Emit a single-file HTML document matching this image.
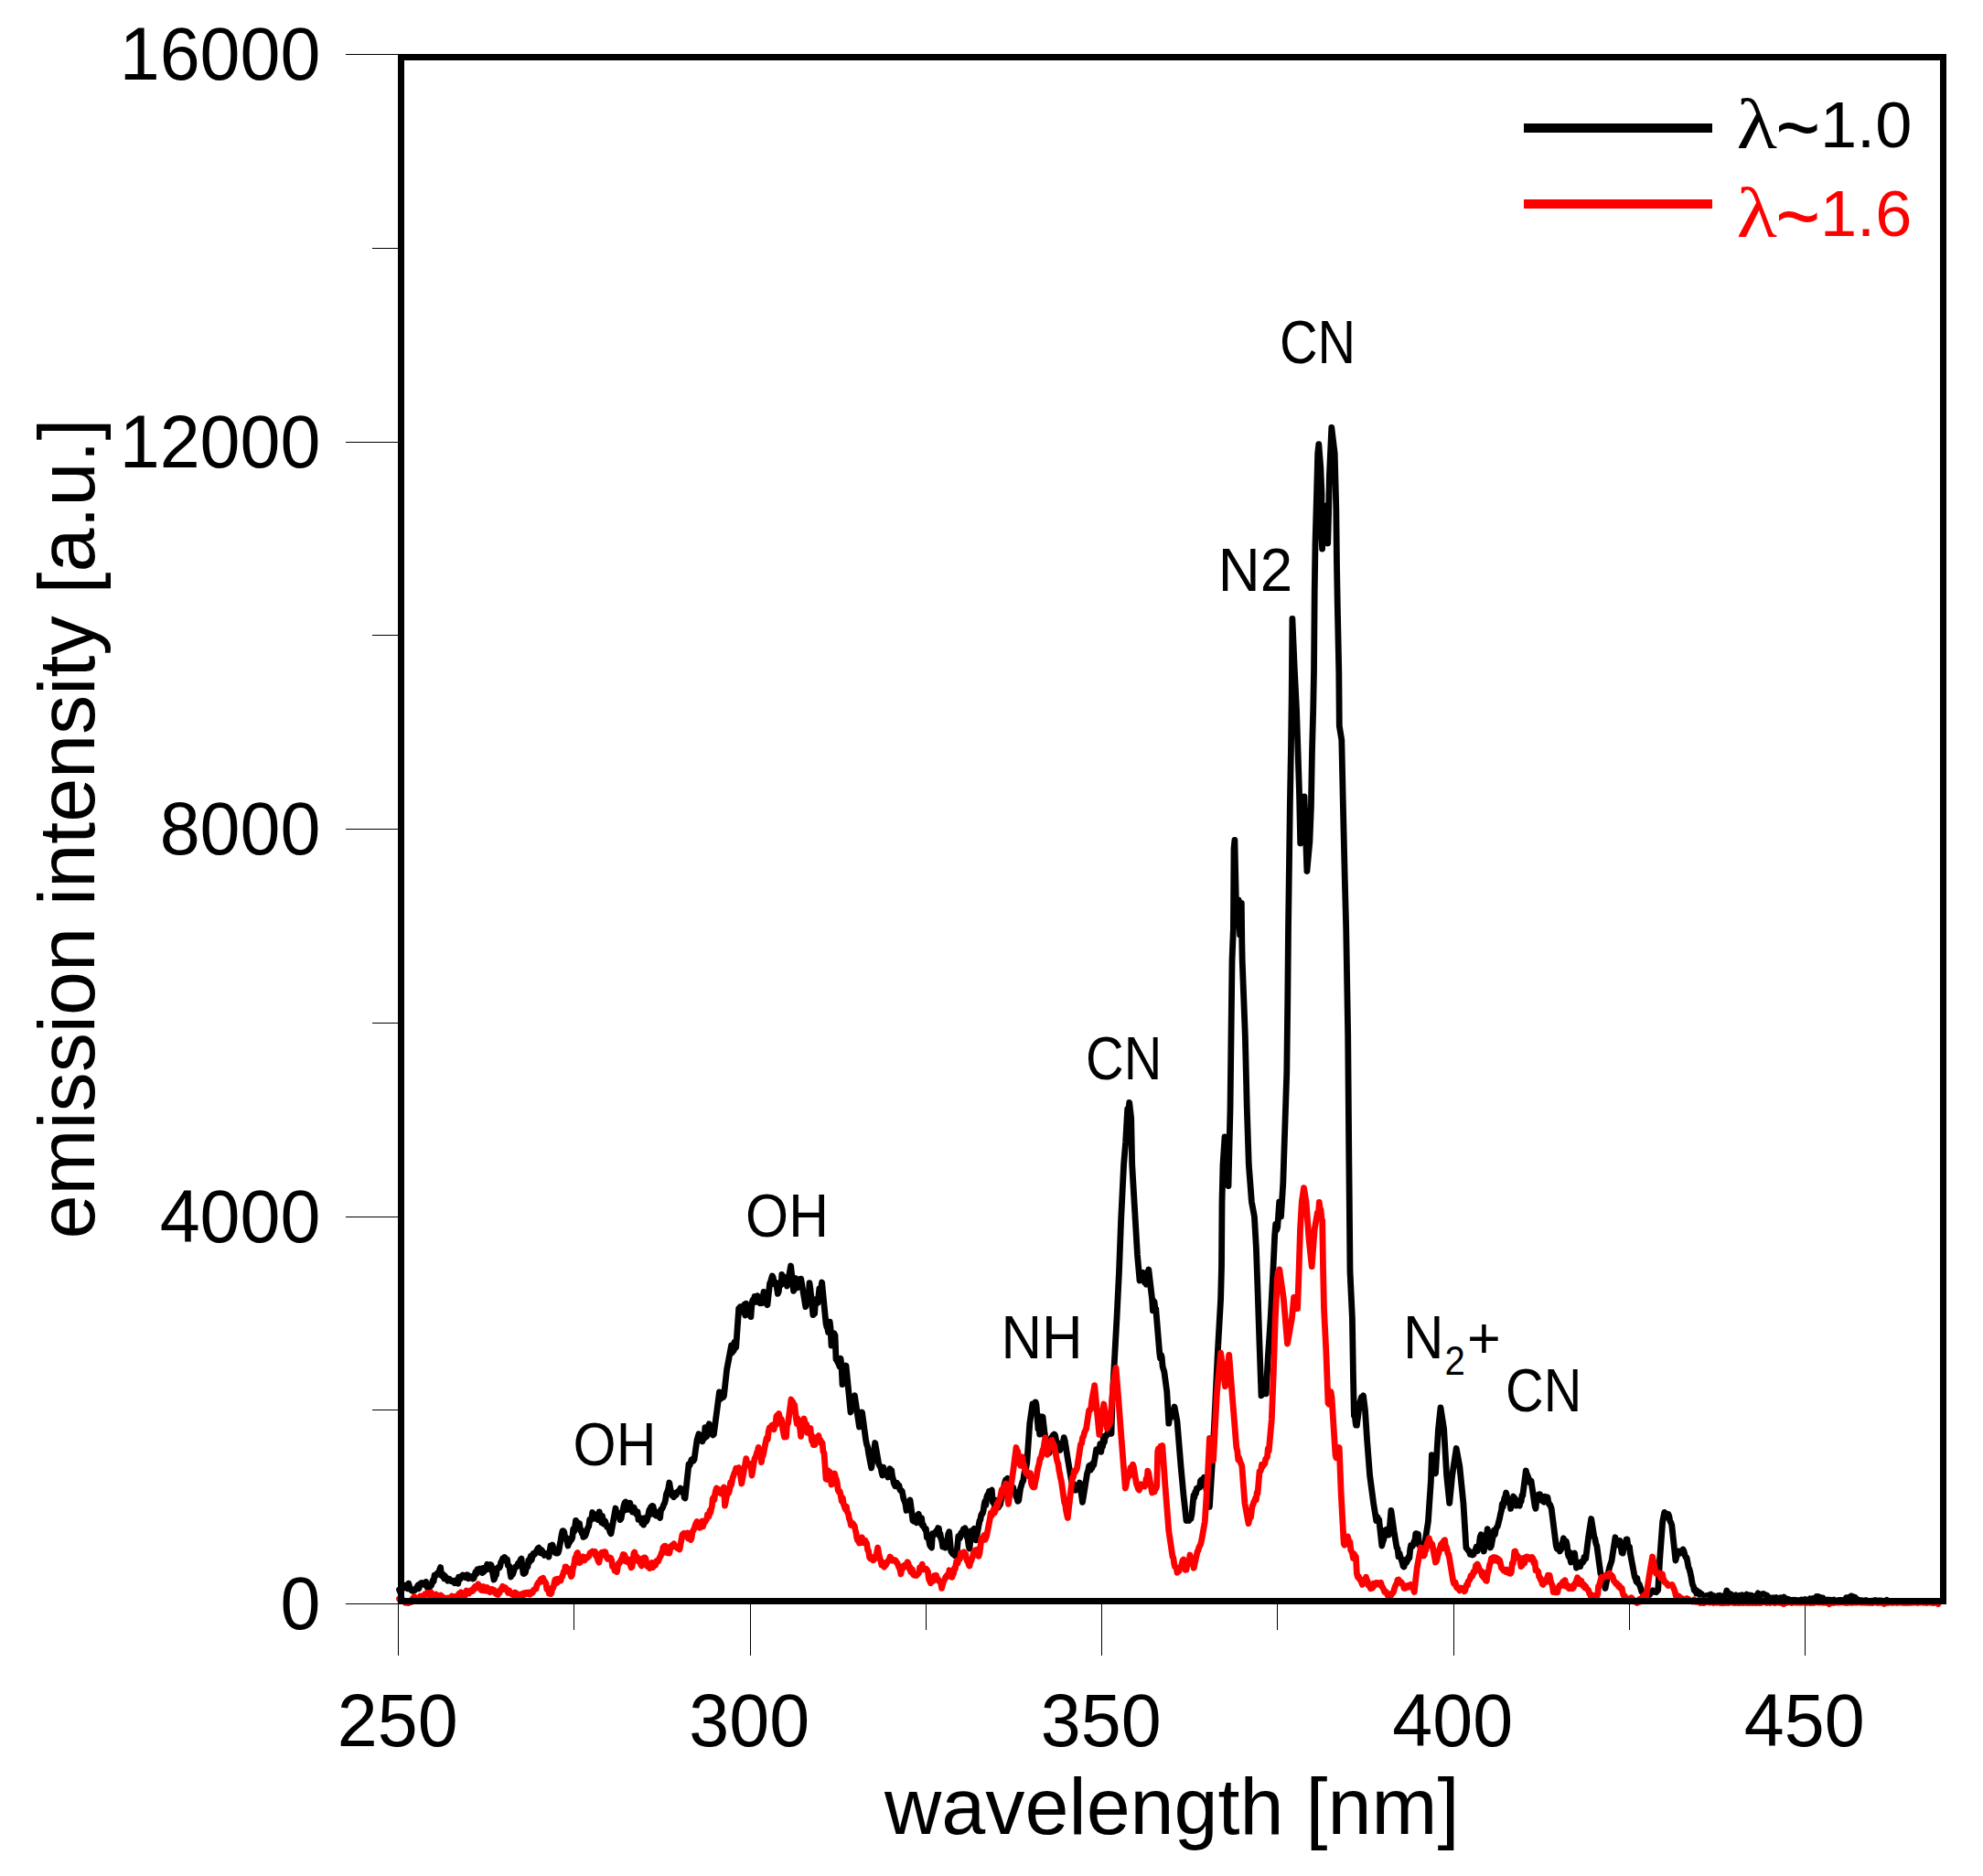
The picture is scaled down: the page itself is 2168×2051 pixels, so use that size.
<!DOCTYPE html>
<html lang="en"><head><meta charset="utf-8"><title>emission spectrum</title>
<style>
html,body{margin:0;padding:0;background:#fff;}
body{width:2168px;height:2051px;overflow:hidden;}
svg{display:block;}
.ax{font-family:"Liberation Sans",Arial,sans-serif;fill:#000;}
.lb{font-family:"Liberation Sans",Arial,sans-serif;fill:#000;}
.gr{font-family:"Liberation Serif","DejaVu Serif",serif;}
</style></head><body>
<svg width="2168" height="2051" viewBox="0 0 2168 2051">
<rect x="0" y="0" width="2168" height="2051" fill="#fff"/>

<g stroke="#000" stroke-width="1" shape-rendering="crispEdges">
<line x1="378" y1="1753.5" x2="436" y2="1753.5"/>
<line x1="407" y1="1541.8" x2="436" y2="1541.8"/>
<line x1="378" y1="1330.0" x2="436" y2="1330.0"/>
<line x1="407" y1="1118.2" x2="436" y2="1118.2"/>
<line x1="378" y1="906.5" x2="436" y2="906.5"/>
<line x1="407" y1="694.8" x2="436" y2="694.8"/>
<line x1="378" y1="483.0" x2="436" y2="483.0"/>
<line x1="407" y1="271.2" x2="436" y2="271.2"/>
<line x1="378" y1="59.5" x2="436" y2="59.5"/>
<line x1="435.5" y1="1753" x2="435.5" y2="1810"/>
<line x1="627.8" y1="1753" x2="627.8" y2="1782"/>
<line x1="820.0" y1="1753" x2="820.0" y2="1810"/>
<line x1="1012.2" y1="1753" x2="1012.2" y2="1782"/>
<line x1="1204.5" y1="1753" x2="1204.5" y2="1810"/>
<line x1="1396.8" y1="1753" x2="1396.8" y2="1782"/>
<line x1="1589.0" y1="1753" x2="1589.0" y2="1810"/>
<line x1="1781.2" y1="1753" x2="1781.2" y2="1782"/>
<line x1="1973.5" y1="1753" x2="1973.5" y2="1810"/>
</g>
<polyline points="436.5,1738.0 437.4,1740.4 438.2,1737.3 439.1,1735.6 439.9,1735.1 440.8,1735.1 441.6,1734.6 442.4,1735.7 443.3,1733.3 444.1,1734.0 445.0,1733.0 445.9,1736.8 446.8,1731.2 447.6,1734.4 448.5,1737.1 449.4,1738.0 450.2,1738.9 451.1,1739.2 452.0,1739.5 453.0,1737.7 454.0,1738.2 455.0,1736.5 456.0,1734.9 457.0,1733.1 458.0,1736.7 459.0,1732.5 460.0,1731.0 460.9,1730.5 461.9,1731.6 462.9,1731.8 463.8,1732.5 464.8,1733.0 465.7,1729.4 466.6,1733.4 467.6,1736.3 468.6,1733.6 469.5,1736.0 470.4,1733.8 471.4,1733.4 472.3,1731.2 473.2,1727.7 474.1,1728.8 475.1,1722.1 476.0,1723.0 476.9,1722.3 477.8,1720.1 478.8,1720.2 479.7,1719.5 480.6,1716.0 481.6,1713.6 482.7,1722.6 483.7,1723.0 484.7,1721.4 485.6,1725.8 486.6,1722.9 487.5,1726.3 488.5,1726.5 489.4,1728.2 490.4,1726.0 491.4,1726.3 492.3,1727.2 493.3,1728.7 494.2,1728.2 495.2,1728.6 496.1,1728.3 497.1,1730.8 498.0,1729.9 499.0,1728.0 499.9,1726.9 500.8,1731.3 501.6,1724.2 502.5,1725.4 503.4,1726.1 504.2,1723.3 505.1,1723.1 506.0,1722.0 506.9,1723.7 507.8,1723.4 508.8,1724.6 509.7,1724.0 510.6,1721.7 511.5,1722.0 512.4,1725.8 513.3,1725.0 514.2,1723.6 515.2,1723.8 516.1,1723.3 517.0,1726.0 518.0,1725.6 519.0,1722.3 520.0,1718.4 521.0,1720.6 522.0,1715.8 523.0,1717.0 523.9,1717.0 524.8,1715.0 525.6,1718.5 526.5,1717.1 527.4,1719.5 528.2,1714.4 529.1,1718.4 530.0,1715.0 530.9,1716.4 531.8,1713.9 532.6,1710.2 533.5,1713.5 534.4,1715.5 535.2,1712.1 536.1,1710.5 537.0,1711.0 540.0,1727.0 540.9,1725.0 541.7,1722.4 542.5,1721.7 543.4,1714.6 544.2,1713.8 545.1,1714.5 546.0,1713.9 546.8,1712.5 547.6,1708.0 548.5,1707.0 549.5,1704.0 550.5,1706.0 551.5,1702.5 552.5,1703.5 553.5,1704.4 554.5,1705.0 555.3,1711.5 556.1,1712.1 557.0,1712.3 557.8,1719.5 558.6,1724.0 559.5,1718.7 560.5,1721.3 561.5,1718.3 562.4,1715.6 563.4,1713.0 564.3,1712.7 565.2,1712.8 566.2,1709.7 567.2,1708.5 568.1,1709.4 569.0,1705.3 570.0,1704.0 572.0,1720.0 572.8,1720.5 573.7,1720.0 574.5,1718.9 575.3,1714.6 576.2,1711.7 577.0,1712.9 577.8,1706.0 578.7,1707.9 579.5,1704.3 580.3,1701.1 581.2,1705.6 582.0,1702.0 583.0,1698.4 584.0,1699.7 585.0,1698.6 586.0,1696.3 587.0,1694.8 588.0,1693.0 589.0,1692.2 590.0,1694.3 591.0,1697.9 592.0,1694.6 593.0,1696.0 594.0,1698.2 595.0,1700.4 596.0,1699.7 597.0,1699.8 598.0,1698.3 599.0,1700.3 600.0,1702.0 602.0,1690.0 603.0,1693.5 604.0,1689.0 605.0,1692.4 606.0,1694.9 607.0,1697.7 608.0,1698.0 609.0,1697.2 610.0,1698.0 611.0,1695.1 612.0,1689.3 613.0,1684.4 614.0,1678.2 615.0,1673.7 616.0,1673.7 616.8,1675.0 617.7,1681.2 618.5,1680.6 619.3,1682.6 620.2,1685.6 621.0,1690.0 622.0,1684.9 622.9,1686.0 623.9,1681.9 624.8,1683.4 625.8,1680.7 626.7,1672.0 627.6,1674.6 628.6,1668.9 629.5,1662.4 630.5,1663.5 631.5,1667.6 632.5,1667.6 633.5,1665.5 634.5,1673.1 635.4,1672.5 636.2,1676.5 637.0,1676.2 637.8,1680.4 638.6,1680.0 639.6,1679.5 640.6,1677.2 641.7,1673.6 642.7,1670.3 643.7,1668.7 644.7,1661.5 645.7,1662.1 646.7,1660.6 647.7,1653.5 648.8,1657.5 649.8,1659.4 650.8,1660.2 651.8,1656.0 652.8,1656.5 653.6,1655.6 654.4,1661.7 655.3,1652.9 656.1,1658.6 656.9,1657.7 657.7,1664.5 658.5,1657.4 659.4,1662.2 660.2,1666.0 661.0,1662.5 661.9,1663.8 662.8,1667.0 663.6,1669.3 664.5,1668.8 665.4,1668.7 666.2,1672.5 667.1,1675.4 668.0,1676.7 673.0,1649.0 673.8,1653.1 674.7,1653.1 675.5,1654.8 676.3,1654.9 677.2,1658.6 678.0,1661.5 679.0,1660.3 680.0,1655.1 681.0,1651.5 682.0,1646.2 683.0,1643.0 684.0,1642.0 685.0,1650.7 686.0,1648.9 687.0,1649.6 688.0,1650.0 688.8,1643.2 689.7,1650.9 690.5,1650.2 691.3,1652.9 692.2,1649.4 693.0,1648.0 694.0,1650.4 695.0,1654.5 696.0,1655.8 697.0,1652.7 698.0,1661.4 699.0,1660.5 699.9,1661.8 700.9,1659.9 701.8,1665.2 702.8,1662.6 703.7,1667.1 704.6,1659.7 705.6,1661.7 706.5,1663.5 707.3,1661.6 708.2,1658.8 709.0,1654.8 709.8,1650.8 710.7,1655.8 711.5,1648.0 712.3,1651.3 713.2,1646.4 714.0,1646.7 714.9,1650.7 715.7,1655.6 716.5,1654.4 717.4,1657.1 718.2,1653.3 719.1,1656.8 719.9,1654.3 720.8,1658.6 721.6,1659.5 722.6,1650.4 723.6,1649.9 724.7,1647.9 725.7,1644.8 726.7,1643.3 727.7,1639.0 728.5,1633.5 729.3,1631.5 730.2,1629.4 731.0,1625.6 731.8,1621.0 732.8,1627.4 733.8,1630.9 734.8,1635.0 735.7,1634.0 736.6,1636.8 737.6,1634.7 738.5,1632.3 739.4,1634.3 740.3,1631.2 741.2,1631.4 742.2,1629.6 743.1,1628.9 744.0,1627.0 744.8,1628.8 745.7,1631.1 746.5,1632.1 747.3,1631.1 748.2,1637.3 749.0,1638.0 753.0,1600.8 754.0,1602.4 755.0,1598.9 756.0,1595.9 757.0,1595.2 758.0,1597.2 759.0,1595.7 762.0,1574.4 763.0,1571.0 764.0,1567.7 765.0,1574.4 766.0,1574.1 767.0,1570.5 768.0,1575.8 769.0,1569.1 770.0,1572.4 770.9,1560.7 771.7,1563.7 772.6,1570.6 773.4,1561.1 774.3,1560.0 775.3,1556.8 776.3,1560.8 777.3,1565.3 778.4,1568.1 779.4,1568.9 780.4,1568.0 786.5,1521.8 787.3,1523.2 788.2,1529.3 789.0,1526.8 789.8,1524.4 790.7,1527.6 791.5,1525.8 794.6,1497.5 799.6,1471.0 800.5,1478.9 801.3,1476.1 802.2,1476.7 803.0,1467.4 803.9,1472.0 804.7,1473.0 807.7,1430.6 808.6,1433.6 809.4,1428.6 810.2,1434.5 811.1,1432.0 811.9,1433.1 812.8,1428.6 813.8,1426.4 814.8,1438.0 815.8,1425.1 816.9,1433.3 817.9,1429.2 818.9,1432.7 819.9,1430.6 820.9,1439.7 822.0,1425.3 823.0,1421.1 824.0,1424.1 825.0,1417.5 826.0,1423.5 827.0,1420.5 828.0,1416.6 829.0,1423.5 830.0,1424.2 831.0,1424.8 832.0,1422.9 833.0,1424.6 834.0,1419.5 835.0,1412.4 836.0,1416.1 837.0,1423.4 838.0,1425.5 839.0,1426.6 841.6,1403.1 842.5,1401.3 843.4,1397.9 844.3,1395.0 845.3,1396.7 846.3,1403.8 847.3,1403.5 848.4,1402.3 849.4,1407.9 850.4,1414.4 851.3,1412.0 852.2,1402.9 853.1,1405.2 854.0,1404.8 854.8,1393.4 855.7,1397.3 856.6,1400.8 857.5,1396.0 858.5,1401.9 859.5,1402.4 860.5,1406.0 864.6,1384.0 867.6,1411.4 868.6,1406.5 869.6,1397.3 870.6,1400.0 871.6,1408.0 872.6,1401.6 873.7,1398.8 874.7,1405.6 875.7,1398.2 876.7,1404.0 880.8,1428.6 881.6,1424.3 882.5,1413.4 883.3,1421.9 884.1,1419.2 885.0,1402.7 885.8,1408.0 888.9,1437.7 889.8,1435.3 890.6,1436.2 891.5,1423.0 892.3,1420.5 893.1,1421.8 894.0,1424.5 894.9,1417.1 895.8,1409.0 896.8,1411.1 897.7,1407.6 898.6,1402.0 903.0,1446.8 903.8,1450.6 904.7,1451.8 905.5,1456.3 906.3,1455.6 907.2,1445.1 908.0,1452.0 909.0,1471.0 910.0,1465.9 911.0,1460.6 912.0,1457.8 913.0,1460.0 914.0,1486.0 915.0,1487.4 916.0,1489.5 917.0,1491.2 918.0,1494.1 919.0,1485.1 920.0,1493.0 921.0,1513.7 925.0,1493.0 930.0,1544.0 930.9,1535.5 931.8,1536.6 932.6,1532.3 933.5,1528.2 934.4,1525.8 939.5,1560.0 942.5,1544.0 946.6,1574.4 947.6,1579.2 948.6,1581.9 949.7,1589.4 952.7,1604.8 956.7,1577.5 959.7,1594.7 960.6,1599.9 961.4,1601.9 962.2,1603.6 963.1,1604.9 963.9,1609.4 964.8,1613.0 965.8,1604.1 966.8,1608.1 967.8,1609.9 968.9,1611.7 969.9,1609.0 970.9,1615.0 972.0,1611.0 973.0,1605.8 973.8,1609.1 974.7,1607.5 975.5,1613.7 976.3,1616.4 977.2,1621.4 978.0,1623.0 978.8,1624.8 979.7,1623.2 980.5,1621.2 981.3,1623.3 982.2,1623.7 983.0,1624.0 983.8,1628.5 984.7,1629.8 985.5,1629.6 986.3,1630.5 987.2,1635.5 988.0,1639.0 989.0,1641.3 990.0,1644.5 991.0,1651.4 992.0,1648.3 993.0,1644.5 994.0,1643.1 995.0,1640.0 998.0,1662.5 999.0,1663.2 1000.1,1660.5 1001.1,1661.0 1002.2,1664.7 1003.2,1656.5 1004.3,1655.4 1005.1,1660.5 1005.9,1660.6 1006.8,1665.4 1007.6,1659.6 1008.4,1667.6 1009.4,1666.9 1010.4,1670.2 1011.4,1672.0 1012.4,1671.6 1013.4,1680.8 1014.4,1680.1 1015.5,1683.3 1016.5,1689.0 1017.5,1690.7 1018.5,1692.0 1019.5,1676.7 1020.5,1678.6 1021.5,1677.3 1022.5,1675.9 1023.6,1673.8 1024.6,1673.5 1025.6,1670.6 1026.4,1670.9 1027.2,1678.9 1028.0,1676.7 1028.8,1682.3 1029.7,1684.6 1030.7,1691.0 1031.7,1687.8 1032.7,1690.2 1033.7,1692.0 1034.7,1690.2 1035.7,1683.4 1036.7,1677.2 1037.7,1674.7 1039.7,1696.0 1040.7,1697.4 1041.7,1699.0 1042.8,1698.8 1043.8,1700.6 1044.8,1698.0 1045.8,1700.0 1047.8,1679.7 1048.7,1682.5 1049.6,1681.3 1050.5,1676.5 1051.4,1675.4 1052.3,1674.8 1053.2,1672.0 1054.1,1675.1 1055.0,1670.6 1055.8,1672.7 1056.7,1679.6 1057.5,1680.7 1058.3,1684.0 1059.2,1690.8 1060.0,1693.0 1062.0,1673.7 1063.0,1676.5 1064.0,1673.2 1065.0,1671.4 1066.0,1672.7 1067.0,1683.8 1071.0,1662.5 1071.8,1661.6 1072.7,1656.6 1073.5,1654.7 1074.3,1654.8 1075.2,1651.0 1076.0,1645.3 1076.9,1641.2 1077.8,1645.6 1078.7,1637.0 1079.7,1634.2 1080.6,1635.2 1081.5,1630.4 1082.4,1630.9 1083.3,1630.0 1084.3,1629.2 1085.3,1642.1 1086.3,1641.3 1087.2,1645.7 1088.1,1640.0 1089.0,1640.2 1089.8,1644.9 1090.7,1640.9 1091.6,1648.1 1092.5,1644.0 1093.4,1645.3 1096.5,1630.0 1097.5,1625.8 1098.5,1621.1 1099.5,1618.0 1100.5,1618.4 1101.5,1616.4 1102.5,1620.1 1103.5,1620.8 1104.6,1618.1 1105.6,1623.2 1106.6,1625.5 1107.6,1626.0 1108.4,1629.8 1109.3,1630.5 1110.2,1631.3 1111.0,1636.6 1111.8,1637.5 1112.7,1641.3 1113.7,1640.5 1114.7,1633.6 1115.7,1626.8 1116.7,1623.9 1117.7,1620.3 1118.7,1619.0 1119.5,1612.9 1120.3,1608.2 1121.2,1605.8 1122.0,1603.7 1122.8,1598.7 1125.8,1556.2 1128.9,1535.0 1129.7,1537.3 1130.5,1537.7 1131.4,1544.0 1132.2,1533.0 1133.0,1536.0 1135.0,1562.3 1135.8,1560.1 1136.7,1568.2 1137.5,1548.7 1138.3,1551.5 1139.2,1551.9 1140.0,1549.0 1142.0,1566.3 1142.8,1570.6 1143.7,1575.1 1144.5,1576.6 1145.3,1582.4 1146.2,1585.1 1147.0,1588.6 1148.0,1586.4 1149.0,1572.6 1150.0,1571.1 1151.0,1569.4 1151.9,1570.6 1152.8,1568.1 1153.6,1569.3 1154.5,1574.1 1155.4,1578.9 1156.2,1577.1 1157.1,1584.1 1158.0,1584.6 1158.8,1585.5 1159.6,1582.5 1160.4,1581.7 1161.2,1578.4 1162.2,1577.0 1163.2,1571.6 1164.3,1575.4 1167.3,1594.7 1171.4,1619.0 1172.2,1620.6 1173.1,1623.6 1174.0,1622.6 1174.8,1625.4 1175.7,1629.3 1176.5,1629.0 1177.5,1624.7 1178.5,1626.7 1179.5,1628.1 1180.5,1621.0 1183.5,1642.3 1187.6,1617.0 1188.6,1610.7 1189.6,1608.0 1190.6,1602.8 1191.4,1602.2 1192.3,1607.1 1193.2,1603.3 1194.0,1604.9 1194.8,1599.9 1195.7,1601.8 1198.7,1584.6 1199.7,1585.1 1200.7,1585.8 1201.8,1586.4 1202.8,1578.6 1203.8,1587.3 1204.8,1580.5 1205.6,1581.5 1206.4,1570.5 1207.3,1577.0 1208.1,1572.0 1208.9,1570.4 1209.9,1569.4 1210.9,1566.5 1212.0,1562.6 1213.0,1558.8 1214.0,1565.0 1215.0,1567.3 1216.0,1532.0 1221.0,1440.8 1223.5,1390.0 1225.6,1334.0 1228.6,1273.3 1230.6,1249.0 1232.7,1212.5 1233.7,1215.8 1234.7,1205.4 1236.7,1222.7 1237.7,1273.3 1240.8,1326.0 1243.5,1372.0 1246.0,1400.0 1246.9,1395.8 1247.8,1392.2 1248.8,1395.3 1249.7,1391.3 1250.6,1394.2 1251.5,1402.0 1252.4,1400.7 1253.2,1404.2 1254.1,1395.6 1254.9,1391.9 1255.8,1388.0 1259.6,1420.5 1260.4,1432.8 1261.2,1422.2 1262.1,1423.5 1262.9,1431.0 1263.7,1430.6 1267.7,1479.0 1268.5,1484.9 1269.4,1481.2 1270.2,1483.9 1271.1,1494.0 1272.0,1497.2 1272.8,1499.5 1275.8,1521.8 1277.8,1556.2 1278.8,1548.5 1279.9,1549.9 1280.9,1547.9 1281.9,1542.5 1283.0,1543.1 1284.0,1538.0 1287.0,1554.0 1291.0,1602.8 1294.0,1635.0 1297.0,1662.5 1298.0,1662.2 1299.0,1662.3 1300.0,1662.5 1301.0,1659.3 1302.0,1660.3 1303.0,1655.4 1305.0,1635.0 1305.8,1637.2 1306.7,1631.3 1307.5,1633.1 1308.3,1627.5 1309.2,1628.1 1310.0,1626.2 1310.8,1626.1 1311.6,1626.2 1312.5,1619.0 1313.3,1618.0 1314.3,1618.3 1315.3,1619.5 1316.3,1615.3 1317.3,1620.0 1322.4,1647.3 1325.4,1598.7 1327.5,1558.2 1331.5,1475.2 1334.6,1420.5 1335.5,1385.0 1336.0,1313.8 1337.0,1273.3 1339.0,1243.0 1343.0,1296.6 1345.0,1212.5 1346.0,1131.5 1347.0,1050.5 1348.4,1015.0 1349.0,927.5 1349.9,918.4 1351.4,986.7 1352.6,1012.0 1354.2,984.0 1355.6,1022.0 1357.3,987.5 1357.8,1030.0 1358.2,1050.5 1361.3,1131.5 1363.3,1212.5 1365.3,1273.3 1368.4,1313.8 1371.4,1330.0 1373.4,1364.4 1375.0,1410.0 1377.0,1470.0 1379.0,1525.8 1379.9,1523.4 1380.7,1518.1 1381.6,1518.5 1382.5,1521.8 1383.3,1517.3 1384.2,1523.8 1386.2,1485.3 1389.2,1440.8 1391.6,1395.0 1393.7,1350.3 1394.7,1338.4 1395.7,1344.9 1396.7,1342.0 1398.7,1313.8 1400.5,1330.0 1402.8,1293.5 1404.8,1232.8 1406.8,1172.0 1407.8,1091.0 1408.5,1015.0 1410.3,882.0 1411.4,821.0 1412.2,760.4 1412.9,676.3 1415.2,730.0 1417.5,775.6 1419.0,821.0 1420.5,866.7 1421.7,922.0 1426.0,871.0 1428.9,952.5 1431.9,919.9 1433.4,881.9 1434.5,821.0 1435.7,775.6 1436.5,735.0 1437.2,647.5 1438.0,594.0 1439.5,541.0 1440.7,495.6 1441.8,485.7 1443.8,510.8 1445.0,541.0 1444.2,575.0 1445.6,600.0 1447.2,560.0 1448.3,557.7 1449.4,553.0 1450.2,585.0 1451.7,594.0 1452.6,560.0 1453.4,520.0 1455.8,467.5 1459.2,495.6 1460.8,556.3 1461.5,617.0 1462.3,662.7 1463.8,735.0 1464.3,793.8 1466.8,809.0 1468.4,882.0 1470.2,957.9 1471.7,1015.0 1473.7,1131.5 1474.7,1253.0 1476.0,1390.0 1478.4,1440.8 1479.4,1501.5 1480.4,1548.0 1481.4,1549.3 1482.4,1558.1 1483.4,1558.2 1486.5,1534.0 1487.5,1530.8 1488.5,1527.4 1489.5,1529.8 1490.5,1525.8 1492.5,1542.0 1494.6,1574.4 1497.6,1613.0 1501.6,1643.3 1504.7,1662.5 1505.7,1658.4 1506.7,1660.2 1507.7,1661.5 1510.8,1690.0 1511.8,1685.6 1512.8,1683.2 1513.8,1676.7 1514.8,1672.7 1515.6,1673.8 1516.4,1672.0 1517.3,1674.6 1518.1,1678.1 1518.9,1674.7 1520.9,1651.4 1524.0,1673.7 1527.0,1692.0 1528.0,1693.1 1529.0,1701.8 1530.0,1698.2 1531.0,1702.0 1532.0,1704.8 1533.0,1707.8 1534.0,1712.2 1535.0,1713.0 1535.8,1708.8 1536.7,1705.3 1537.5,1708.7 1538.3,1707.2 1539.2,1705.1 1540.0,1702.0 1540.9,1703.2 1541.7,1694.1 1542.6,1689.5 1543.5,1689.5 1544.3,1690.3 1545.2,1687.8 1546.1,1684.9 1546.9,1684.1 1547.8,1676.7 1548.7,1676.6 1549.6,1681.2 1550.5,1677.2 1551.4,1689.1 1552.3,1690.0 1553.1,1689.2 1554.0,1692.0 1554.8,1694.6 1555.6,1690.0 1556.5,1689.5 1557.3,1690.0 1561.4,1663.5 1564.4,1619.0 1565.4,1590.6 1566.2,1593.1 1567.0,1596.1 1567.9,1600.9 1568.7,1608.7 1569.5,1610.9 1572.5,1562.3 1575.0,1539.0 1578.6,1562.3 1581.6,1613.0 1584.7,1643.3 1587.7,1613.0 1592.2,1583.5 1595.8,1602.8 1599.9,1643.3 1602.9,1692.0 1603.8,1693.3 1604.7,1694.5 1605.6,1695.2 1606.5,1696.8 1607.3,1699.4 1608.2,1699.4 1609.1,1698.9 1610.0,1700.0 1611.0,1699.5 1612.1,1696.0 1613.1,1694.4 1614.1,1691.2 1615.2,1695.8 1616.2,1692.0 1617.2,1688.2 1618.2,1680.4 1619.2,1677.7 1622.3,1696.0 1626.3,1671.6 1629.4,1692.0 1630.4,1690.1 1631.4,1684.3 1632.4,1679.3 1633.4,1673.2 1634.4,1677.8 1635.4,1671.6 1636.4,1669.8 1637.4,1668.6 1638.5,1663.9 1639.5,1660.2 1640.5,1655.2 1641.5,1651.4 1642.3,1644.3 1643.2,1647.4 1644.0,1641.8 1644.9,1637.7 1645.8,1636.1 1646.6,1632.0 1647.4,1635.1 1648.3,1639.5 1649.1,1639.8 1649.9,1643.5 1650.8,1641.1 1651.6,1649.4 1652.6,1643.9 1653.7,1642.2 1654.7,1636.0 1655.5,1641.0 1656.4,1638.2 1657.2,1640.3 1658.0,1646.2 1658.9,1642.9 1659.7,1645.3 1660.5,1645.4 1661.4,1646.1 1662.2,1640.3 1663.1,1641.6 1664.0,1634.9 1664.8,1635.0 1668.3,1607.8 1669.2,1611.3 1670.2,1613.4 1671.2,1616.5 1672.1,1617.6 1673.0,1621.3 1674.0,1619.0 1678.0,1646.3 1679.0,1649.3 1680.0,1638.4 1681.0,1635.6 1682.0,1634.0 1682.8,1636.5 1683.7,1633.7 1684.5,1638.9 1685.3,1640.3 1686.2,1639.4 1687.0,1641.3 1688.0,1642.1 1689.0,1636.2 1690.0,1641.5 1691.0,1639.0 1691.9,1636.9 1692.7,1641.0 1693.6,1644.6 1694.5,1644.8 1695.3,1646.8 1696.2,1649.4 1701.3,1690.0 1702.3,1693.3 1703.3,1693.2 1704.3,1693.7 1705.3,1696.0 1706.1,1694.3 1706.9,1693.7 1707.8,1687.5 1708.6,1685.4 1709.4,1681.8 1710.4,1686.6 1711.4,1686.5 1712.4,1685.2 1713.4,1690.0 1714.2,1698.8 1715.0,1701.7 1715.9,1696.8 1716.7,1704.3 1717.5,1708.0 1718.5,1706.3 1719.5,1704.9 1720.5,1701.8 1721.5,1698.0 1723.5,1714.2 1724.3,1713.0 1725.2,1710.8 1726.1,1712.2 1726.9,1711.3 1727.8,1712.5 1728.6,1707.7 1729.5,1707.1 1730.3,1708.3 1731.2,1707.2 1732.0,1702.4 1732.8,1704.6 1733.7,1704.0 1736.7,1679.7 1739.7,1660.5 1742.8,1679.7 1743.8,1682.2 1744.8,1687.5 1745.8,1690.0 1749.9,1720.3 1750.8,1721.8 1751.6,1724.2 1752.5,1727.8 1753.3,1731.0 1754.2,1732.8 1755.0,1736.5 1759.0,1716.2 1760.0,1712.2 1761.0,1709.5 1762.0,1706.4 1763.0,1700.0 1766.0,1680.8 1767.0,1687.2 1768.0,1684.6 1769.0,1689.0 1770.0,1688.4 1771.0,1684.4 1772.0,1690.0 1773.1,1697.9 1774.2,1698.0 1775.2,1692.7 1776.2,1690.3 1777.2,1687.7 1778.2,1682.8 1779.0,1682.9 1779.8,1689.9 1780.7,1691.9 1781.5,1691.2 1782.3,1698.0 1787.3,1724.3 1788.2,1726.1 1789.0,1729.0 1789.8,1725.3 1790.7,1731.0 1791.6,1731.4 1792.4,1732.4 1793.2,1735.1 1794.0,1737.1 1794.9,1740.3 1795.7,1740.2 1796.5,1742.5 1797.5,1743.7 1798.5,1741.9 1799.5,1743.4 1800.5,1742.4 1801.6,1740.8 1802.6,1741.3 1803.6,1743.4 1804.6,1740.5 1805.4,1741.1 1806.2,1740.2 1807.0,1738.8 1807.8,1739.2 1808.7,1740.3 1809.7,1740.1 1810.7,1740.7 1811.7,1739.6 1812.7,1738.5 1814.7,1704.0 1817.7,1663.5 1819.7,1653.4 1820.5,1655.4 1821.4,1654.7 1822.2,1658.7 1823.1,1655.2 1824.0,1655.5 1824.8,1657.5 1825.8,1663.0 1826.8,1664.4 1827.8,1667.6 1831.9,1706.0 1832.9,1702.1 1834.0,1698.2 1835.0,1696.0 1836.0,1695.9 1837.0,1698.1 1838.0,1697.2 1839.0,1697.5 1840.0,1693.9 1841.0,1696.0 1842.0,1699.9 1843.0,1702.4 1844.0,1703.0 1845.0,1708.0 1846.0,1713.5 1847.0,1715.6 1848.0,1719.6 1849.0,1724.3 1849.8,1729.2 1850.6,1732.9 1851.4,1734.2 1852.2,1738.5 1853.0,1739.3 1853.9,1738.2 1854.7,1742.0 1855.5,1739.3 1856.4,1741.5 1857.2,1740.5 1858.0,1741.0 1858.8,1743.8 1859.7,1746.6 1860.5,1742.6 1861.3,1746.6 1862.1,1745.8 1863.0,1746.4 1863.8,1745.4 1864.7,1745.2 1865.5,1744.6 1866.3,1747.9 1867.2,1745.8 1868.0,1745.9 1868.9,1743.8 1869.7,1746.2 1870.6,1743.0 1871.4,1744.6 1872.4,1746.1 1873.4,1744.5 1874.4,1745.6 1875.4,1745.7 1876.4,1747.2 1877.5,1746.1 1878.5,1744.5 1879.5,1746.2 1880.5,1744.4 1881.5,1747.7 1882.5,1747.3 1883.5,1746.6 1884.3,1744.7 1885.2,1745.5 1886.0,1744.1 1886.9,1743.2 1887.8,1739.0 1888.6,1740.5 1889.4,1741.2 1890.3,1743.5 1891.2,1744.4 1892.0,1745.5 1892.8,1742.9 1893.7,1746.6 1894.5,1746.4 1895.4,1746.3 1896.2,1748.2 1897.1,1745.0 1897.9,1743.9 1898.8,1744.6 1899.6,1745.0 1900.4,1745.0 1901.3,1745.8 1902.1,1744.3 1903.0,1746.0 1903.8,1744.6 1904.6,1743.9 1905.4,1745.2 1906.2,1744.5 1907.1,1745.4 1907.9,1745.3 1908.7,1744.4 1909.5,1743.2 1910.3,1746.0 1911.1,1744.9 1911.9,1744.4 1912.7,1744.0 1913.6,1745.1 1914.4,1746.2 1915.2,1744.3 1916.0,1745.6 1917.0,1745.2 1918.0,1745.6 1919.0,1745.3 1920.0,1744.5 1921.0,1744.0 1922.0,1741.9 1923.0,1745.5 1924.0,1744.0 1925.0,1744.0 1926.0,1743.3 1927.0,1742.6 1928.0,1742.5 1929.0,1743.4 1930.0,1743.3 1931.0,1744.4 1932.0,1744.4 1933.0,1745.7 1934.0,1747.6 1934.9,1747.1 1935.8,1747.3 1936.7,1746.9 1937.6,1748.4 1938.5,1748.9 1939.4,1746.7 1940.3,1748.7 1941.2,1747.9 1942.1,1746.7 1943.0,1748.1 1943.9,1749.1 1944.8,1747.5 1945.7,1747.8 1946.6,1746.8 1947.5,1747.6 1948.4,1747.6 1949.4,1747.9 1950.4,1746.0 1951.4,1747.4 1952.5,1748.3 1953.5,1748.6 1954.5,1748.1 1955.5,1748.8 1956.5,1748.9 1957.5,1749.8 1958.5,1749.9 1959.5,1750.1 1960.5,1749.2 1961.6,1749.5 1962.6,1749.2 1963.6,1749.5 1964.6,1749.6 1965.6,1749.6 1966.5,1749.7 1967.5,1749.8 1968.4,1750.0 1969.4,1749.0 1970.4,1749.3 1971.3,1749.2 1972.3,1749.0 1973.3,1748.5 1974.2,1749.0 1975.2,1749.2 1976.2,1749.0 1977.1,1748.9 1978.1,1749.9 1979.0,1747.8 1980.0,1749.0 1981.0,1748.6 1982.0,1747.6 1983.0,1748.5 1984.0,1747.8 1985.0,1748.4 1986.0,1745.5 1987.0,1746.1 1988.0,1745.5 1989.0,1746.2 1990.0,1746.4 1991.0,1747.3 1992.0,1747.5 1993.0,1747.0 1994.0,1748.9 1995.0,1749.2 1996.0,1749.5 1997.0,1749.4 1998.0,1749.0 1999.0,1749.5 2000.0,1749.1 2001.0,1749.1 2002.0,1749.6 2003.0,1749.5 2004.0,1750.0 2005.0,1749.0 2006.0,1750.1 2007.0,1750.2 2008.0,1750.2 2009.0,1750.3 2010.0,1749.4 2011.0,1749.5 2012.0,1749.3 2013.0,1749.6 2014.0,1749.5 2015.0,1750.0 2016.0,1749.5 2016.8,1749.8 2017.7,1747.9 2018.5,1746.9 2019.4,1747.6 2020.2,1746.6 2021.1,1747.0 2022.0,1746.4 2022.8,1746.0 2023.7,1745.0 2024.5,1745.0 2025.3,1745.2 2026.2,1746.4 2027.0,1746.1 2027.9,1746.1 2028.8,1747.4 2029.6,1747.5 2030.5,1749.6 2031.3,1749.8 2032.2,1749.2 2033.0,1750.0 2034.0,1749.7 2034.9,1750.1 2035.9,1749.7 2036.9,1750.0 2037.8,1750.6 2038.8,1750.0 2039.8,1749.5 2040.7,1750.0 2041.7,1750.8 2042.6,1750.2 2043.6,1750.8 2044.6,1750.9 2045.5,1750.6 2046.5,1750.2 2047.5,1750.2 2048.4,1749.8 2049.4,1749.8 2050.4,1749.5 2051.3,1749.7 2052.3,1751.0 2053.2,1750.1 2054.2,1750.0 2055.2,1750.1 2056.1,1749.8 2057.1,1750.0 2058.1,1750.4 2059.0,1750.4 2060.0,1750.5 2060.9,1750.1 2061.9,1750.0 2062.8,1749.3 2063.8,1750.2 2064.7,1750.3 2065.6,1750.8 2066.6,1751.0 2067.5,1750.9 2068.4,1750.9 2069.4,1751.0 2070.3,1751.6 2071.2,1751.2 2072.2,1751.2 2073.1,1751.5 2074.1,1751.4 2075.0,1751.2 2075.9,1751.2 2076.9,1751.7 2077.8,1750.8 2078.8,1751.0 2079.7,1750.8 2080.6,1750.6 2081.6,1750.6 2082.5,1750.9 2083.4,1751.7 2084.4,1751.8 2085.3,1751.0 2086.2,1751.0 2087.2,1751.3 2088.1,1751.5 2089.1,1751.4 2090.0,1751.0 2090.9,1751.6 2091.8,1750.6 2092.7,1750.9 2093.6,1751.3 2094.5,1751.4 2095.4,1751.7 2096.3,1751.1 2097.2,1750.9 2098.2,1750.6 2099.1,1750.9 2100.0,1750.8 2100.9,1751.1 2101.8,1750.8 2102.7,1751.9 2103.6,1751.0 2104.5,1751.3 2105.4,1751.2 2106.3,1752.1 2107.2,1751.6 2108.1,1751.0 2109.0,1751.2 2109.9,1750.9 2110.8,1751.5 2111.8,1751.4 2112.7,1752.1 2113.6,1751.6 2114.5,1751.9 2115.4,1751.3 2116.3,1751.2 2117.2,1751.4 2118.1,1751.0 2119.0,1751.0" fill="none" stroke="#000" stroke-width="6.8" stroke-linejoin="round" stroke-linecap="round"/>
<polyline points="436.5,1748.0 437.4,1749.5 438.4,1748.2 439.3,1749.3 440.2,1749.8 441.2,1749.7 442.1,1750.9 443.1,1752.2 444.0,1750.6 444.8,1750.5 445.6,1752.5 446.5,1752.5 447.3,1752.0 448.1,1751.2 448.9,1751.0 449.7,1751.4 450.6,1748.3 451.4,1747.5 452.2,1746.7 453.0,1745.6 453.8,1747.6 454.7,1748.8 455.5,1748.0 456.3,1747.5 457.1,1747.8 457.9,1746.9 458.8,1747.2 459.6,1745.0 460.4,1746.6 461.4,1747.3 462.4,1744.9 463.4,1744.9 464.5,1742.7 465.5,1742.3 466.5,1742.5 467.5,1741.4 468.5,1743.8 469.5,1744.1 470.5,1742.7 471.5,1741.2 472.6,1744.6 473.6,1744.9 474.6,1744.1 475.6,1743.7 476.6,1743.0 477.6,1744.3 478.6,1745.6 479.4,1745.1 480.2,1746.5 481.0,1745.9 481.9,1744.1 482.7,1746.9 483.5,1747.6 484.3,1745.8 485.1,1749.1 485.9,1747.0 486.8,1748.8 487.6,1747.6 488.4,1747.1 489.2,1747.1 490.0,1749.0 490.8,1747.1 491.7,1748.1 492.5,1747.7 493.3,1747.3 494.1,1745.0 494.9,1746.8 495.7,1746.2 496.6,1746.1 497.4,1745.5 498.2,1747.3 499.0,1746.6 500.0,1744.7 501.0,1743.7 502.0,1742.3 503.0,1742.7 504.0,1740.8 505.0,1745.1 506.0,1746.9 507.0,1746.0 508.0,1745.1 509.0,1742.5 510.0,1739.0 511.0,1741.5 511.9,1741.1 512.8,1741.9 513.8,1740.0 514.7,1738.9 515.6,1739.5 516.5,1739.6 517.4,1738.4 518.3,1736.0 519.2,1734.7 520.2,1736.3 521.1,1735.2 522.0,1733.4 522.8,1731.9 523.7,1734.5 524.5,1733.8 525.3,1736.6 526.2,1738.5 527.0,1738.5 527.8,1736.4 528.7,1734.5 529.5,1738.8 530.3,1736.4 531.2,1737.3 532.0,1739.2 532.8,1735.5 533.7,1737.7 534.5,1739.2 535.3,1740.6 536.2,1740.5 537.0,1737.5 537.9,1737.5 538.9,1738.6 539.8,1738.3 540.7,1738.8 541.6,1741.4 542.5,1742.6 543.5,1742.5 544.4,1743.5 545.2,1740.1 546.1,1741.5 547.0,1738.3 547.8,1738.4 548.6,1736.3 549.5,1734.4 550.5,1737.6 551.5,1737.5 552.5,1735.8 553.5,1737.2 554.5,1738.5 555.5,1741.4 556.6,1738.9 557.6,1740.5 558.6,1741.6 559.6,1743.1 560.6,1743.7 561.6,1742.5 562.5,1743.4 563.3,1741.1 564.1,1741.4 565.0,1743.2 565.9,1743.8 566.7,1744.2 567.5,1747.3 568.4,1744.2 569.2,1743.2 570.1,1745.8 570.9,1745.4 571.8,1744.5 572.6,1741.7 573.4,1742.1 574.2,1742.8 575.1,1741.2 575.9,1741.2 576.7,1741.3 577.5,1742.5 578.3,1741.0 579.1,1743.0 579.9,1742.7 580.7,1741.0 581.6,1740.3 582.4,1740.9 583.2,1738.5 584.0,1738.5 585.0,1737.1 586.0,1737.2 587.0,1733.0 588.0,1731.2 589.0,1729.6 590.0,1729.8 591.0,1726.7 592.0,1726.0 592.8,1728.4 593.7,1725.1 594.5,1728.8 595.3,1728.4 596.2,1729.7 597.0,1731.3 597.8,1737.3 598.7,1736.7 599.5,1736.9 600.3,1742.1 601.2,1742.0 602.0,1742.5 602.8,1742.0 603.7,1735.9 604.5,1736.6 605.3,1734.4 606.2,1729.4 607.0,1727.0 608.0,1726.5 609.0,1730.5 610.0,1726.2 611.0,1727.1 612.0,1726.7 613.0,1728.0 613.8,1724.4 614.7,1723.8 615.5,1721.1 616.3,1718.3 617.2,1718.6 618.0,1713.0 618.9,1713.0 619.9,1715.2 620.8,1717.6 621.7,1715.6 622.6,1715.4 623.5,1720.6 624.5,1723.6 625.4,1722.0 626.2,1715.8 627.1,1712.3 628.0,1708.5 628.8,1703.1 629.6,1703.7 630.5,1699.0 631.5,1697.5 632.5,1704.5 633.5,1708.6 634.5,1708.0 635.5,1704.0 636.4,1705.7 637.3,1701.7 638.3,1704.5 639.2,1705.7 640.2,1702.4 641.1,1702.9 642.1,1703.1 643.1,1701.8 644.0,1701.3 645.0,1698.0 645.9,1697.3 646.9,1697.2 647.8,1696.0 648.8,1697.3 649.7,1697.0 650.5,1696.4 651.3,1700.7 652.2,1698.6 653.0,1703.2 653.8,1706.0 654.8,1708.2 655.9,1703.0 656.9,1701.2 657.9,1697.3 659.0,1698.9 660.0,1697.0 660.9,1696.5 661.8,1696.7 662.6,1700.0 663.5,1703.0 664.4,1704.4 665.2,1703.8 666.1,1702.8 667.0,1703.0 667.8,1703.5 668.7,1705.6 669.5,1712.6 670.3,1712.8 671.2,1712.9 672.0,1717.0 672.8,1712.2 673.7,1712.5 674.5,1718.6 675.3,1713.0 676.2,1709.1 677.0,1709.4 677.8,1708.2 678.7,1706.0 679.5,1704.5 680.3,1703.0 681.2,1699.5 682.0,1701.0 682.9,1700.2 683.8,1706.8 684.7,1703.3 685.6,1707.6 686.5,1707.3 687.4,1705.2 688.3,1709.0 689.2,1711.2 690.1,1713.8 691.0,1713.0 693.0,1698.0 693.8,1697.1 694.7,1701.9 695.5,1702.8 696.4,1702.0 697.2,1704.8 698.0,1707.1 698.9,1705.9 699.7,1707.6 700.6,1710.5 701.4,1712.0 702.4,1703.8 703.4,1705.8 704.4,1703.0 705.2,1703.0 706.0,1704.2 706.9,1708.2 707.7,1712.4 708.5,1713.0 709.4,1711.9 710.3,1714.6 711.2,1709.6 712.0,1711.4 712.9,1708.6 713.8,1713.6 714.7,1711.1 715.6,1710.0 716.6,1711.0 717.6,1706.7 718.6,1707.5 719.6,1707.2 720.6,1704.3 721.6,1702.0 722.4,1701.1 723.2,1697.7 724.1,1697.9 724.9,1691.8 725.7,1691.0 726.7,1690.1 727.7,1690.1 728.8,1694.3 729.8,1697.9 730.8,1695.3 731.8,1698.0 732.8,1693.0 733.8,1690.2 734.8,1689.3 735.8,1688.9 736.8,1687.8 737.8,1691.0 738.7,1690.9 739.5,1690.7 740.4,1692.5 741.3,1691.8 742.1,1691.5 743.0,1694.0 746.0,1677.7 746.8,1677.6 747.7,1676.3 748.5,1677.4 749.3,1677.0 750.2,1678.8 751.0,1680.2 751.8,1675.9 752.7,1681.9 753.5,1680.7 754.3,1680.1 755.2,1683.5 756.0,1681.8 757.0,1674.7 758.0,1673.1 759.0,1671.2 760.0,1668.0 761.0,1665.3 762.0,1663.5 763.0,1667.4 764.0,1665.5 765.0,1670.3 766.0,1669.6 766.8,1665.1 767.7,1663.1 768.5,1669.0 769.3,1666.1 770.1,1663.9 771.0,1663.8 771.8,1661.6 772.6,1661.2 773.5,1655.9 774.3,1657.5 775.1,1657.7 775.9,1652.0 776.8,1653.6 777.6,1649.3 778.4,1647.0 779.2,1638.7 780.1,1637.0 780.9,1639.9 781.7,1633.3 782.6,1629.3 783.4,1627.0 784.2,1628.7 785.0,1628.0 785.8,1628.8 786.6,1631.6 787.5,1632.4 788.5,1631.2 789.5,1633.2 790.5,1627.7 791.5,1626.0 792.5,1646.0 795.5,1630.7 796.6,1632.5 797.6,1629.1 798.6,1621.0 799.4,1623.8 800.2,1620.0 801.1,1615.4 801.9,1613.4 802.7,1611.0 803.7,1608.8 804.7,1605.3 805.7,1605.7 806.7,1605.9 807.7,1604.5 808.7,1606.8 810.8,1622.0 815.8,1594.7 816.8,1601.5 817.9,1599.8 818.9,1599.8 819.9,1602.9 821.0,1603.0 822.0,1613.0 825.0,1594.7 825.8,1593.5 826.7,1591.3 827.5,1588.2 828.3,1587.0 829.2,1582.4 830.0,1588.6 830.8,1591.0 831.7,1589.6 832.5,1598.7 833.4,1590.9 834.2,1591.6 837.2,1576.5 838.2,1572.1 839.2,1573.8 840.2,1565.3 841.2,1560.9 842.3,1561.3 843.3,1559.1 844.3,1558.0 845.3,1560.0 846.2,1562.7 847.1,1558.0 848.0,1557.9 848.8,1548.6 849.7,1547.3 850.6,1548.9 851.5,1545.5 852.4,1549.0 853.4,1556.6 854.4,1551.7 855.5,1560.8 856.5,1566.1 857.5,1571.1 858.5,1570.4 859.5,1570.7 860.5,1557.5 861.5,1556.2 865.0,1530.0 865.9,1537.2 866.8,1532.7 867.8,1535.4 868.7,1536.0 869.6,1544.0 870.5,1551.5 871.3,1556.4 872.2,1550.9 873.0,1553.4 873.9,1558.0 874.7,1562.3 875.6,1570.3 876.5,1563.7 877.4,1556.9 878.2,1557.8 879.1,1551.0 880.0,1555.0 880.9,1561.7 881.8,1557.2 882.6,1566.3 883.5,1560.6 884.3,1561.3 885.1,1564.2 886.0,1561.5 886.8,1570.4 887.6,1575.4 888.5,1570.3 889.3,1579.5 890.2,1571.9 891.0,1579.5 892.0,1572.4 893.0,1575.0 894.0,1571.3 895.0,1569.7 896.0,1576.1 897.0,1574.4 898.0,1578.0 899.0,1577.6 900.0,1587.1 901.0,1588.6 903.0,1617.0 904.0,1617.4 905.0,1607.5 906.0,1616.2 907.0,1608.9 909.0,1623.0 909.9,1622.0 910.7,1620.4 911.6,1615.9 912.5,1611.0 913.3,1614.6 914.2,1617.0 915.2,1620.7 916.2,1629.2 917.2,1631.0 918.2,1630.5 919.2,1635.2 920.2,1640.8 921.3,1637.8 922.3,1644.5 923.3,1647.3 924.3,1650.0 925.3,1646.9 926.3,1653.0 927.4,1654.7 928.4,1660.5 929.4,1662.5 930.4,1667.5 931.4,1666.6 932.4,1665.6 933.4,1667.6 934.2,1668.1 935.0,1672.0 935.9,1675.8 936.7,1680.9 937.5,1683.8 938.5,1683.5 939.5,1687.0 940.5,1683.8 941.5,1683.0 942.4,1680.8 943.2,1686.7 944.0,1685.5 944.8,1683.9 945.6,1683.8 946.6,1685.9 947.6,1687.1 948.6,1694.6 949.6,1695.7 950.6,1702.7 951.6,1704.0 952.6,1703.0 953.6,1702.6 954.7,1705.8 955.7,1704.9 956.7,1703.7 957.7,1702.0 959.7,1692.0 960.7,1697.9 961.7,1702.7 962.8,1706.0 963.8,1710.7 964.8,1708.4 965.8,1712.0 966.7,1713.1 967.6,1708.7 968.5,1711.1 969.4,1709.1 970.3,1707.7 971.2,1706.0 972.1,1705.7 973.0,1702.0 973.9,1702.8 974.8,1705.8 975.6,1706.2 976.5,1705.3 977.4,1706.2 978.2,1705.6 979.1,1705.9 980.0,1708.0 981.0,1709.0 982.0,1711.6 983.0,1714.0 984.0,1716.0 984.9,1720.8 985.8,1715.9 986.7,1715.5 987.6,1711.9 988.5,1712.9 989.4,1710.8 990.3,1710.7 991.2,1710.9 992.1,1707.8 993.0,1709.0 993.9,1714.5 994.8,1713.0 995.6,1718.5 996.5,1719.1 997.4,1715.8 998.2,1720.7 999.1,1722.0 1000.0,1722.3 1000.9,1722.3 1001.8,1722.6 1002.7,1721.7 1003.6,1720.8 1004.6,1719.4 1005.5,1714.0 1006.4,1714.4 1007.3,1714.0 1008.2,1710.1 1009.1,1715.9 1010.0,1715.6 1010.8,1715.4 1011.7,1715.7 1012.6,1715.2 1013.5,1716.3 1014.4,1718.0 1015.5,1726.4 1016.5,1728.4 1017.5,1730.8 1018.5,1727.5 1019.5,1727.2 1020.5,1728.3 1021.5,1722.6 1022.5,1724.3 1023.5,1722.2 1024.5,1725.8 1025.5,1726.3 1026.5,1728.8 1027.6,1728.8 1028.6,1730.9 1029.6,1736.3 1030.6,1732.4 1031.6,1728.6 1032.7,1727.1 1033.7,1724.3 1034.5,1723.7 1035.4,1722.1 1036.2,1722.8 1037.0,1723.2 1037.9,1716.8 1038.7,1718.0 1039.8,1721.4 1040.8,1724.3 1041.7,1721.6 1042.5,1720.4 1043.4,1714.8 1044.3,1715.3 1045.2,1709.7 1046.0,1706.3 1046.9,1709.3 1047.8,1706.0 1048.7,1705.2 1049.6,1703.9 1050.5,1697.9 1051.4,1701.5 1052.3,1700.1 1053.2,1698.7 1054.1,1696.8 1055.0,1699.0 1055.8,1699.3 1056.7,1704.7 1057.5,1706.6 1058.3,1707.6 1059.2,1710.8 1060.0,1712.0 1060.8,1708.2 1061.7,1706.8 1062.5,1704.1 1063.3,1702.4 1064.2,1698.5 1065.0,1696.0 1066.0,1695.1 1067.0,1694.5 1068.0,1694.2 1069.0,1694.1 1070.0,1701.3 1071.0,1698.0 1073.0,1681.8 1074.0,1681.8 1075.0,1680.6 1076.0,1678.5 1077.0,1683.4 1078.0,1681.1 1079.0,1677.7 1082.3,1660.5 1083.3,1654.1 1084.3,1657.0 1085.3,1654.7 1086.3,1650.0 1087.2,1654.2 1088.0,1652.2 1088.8,1650.3 1089.6,1644.9 1090.4,1647.3 1091.4,1641.5 1092.4,1640.8 1093.4,1637.9 1094.4,1633.0 1095.2,1628.5 1096.1,1628.3 1097.0,1626.4 1097.8,1625.8 1098.7,1624.7 1099.5,1622.0 1102.5,1644.3 1107.6,1608.9 1111.0,1582.5 1111.9,1585.9 1112.8,1587.1 1113.8,1599.3 1114.7,1599.7 1115.7,1602.3 1116.7,1594.7 1117.7,1592.7 1118.5,1599.5 1119.3,1601.3 1120.2,1605.6 1121.0,1608.7 1121.8,1610.9 1122.8,1608.7 1123.8,1612.6 1124.8,1613.8 1125.8,1610.9 1126.6,1610.7 1127.4,1621.3 1128.3,1624.0 1129.1,1625.6 1129.9,1623.0 1130.9,1625.9 1131.9,1620.0 1133.0,1615.3 1134.0,1609.5 1135.0,1603.9 1136.0,1600.8 1137.0,1594.7 1138.0,1594.1 1139.0,1590.2 1140.0,1585.5 1141.0,1583.3 1142.0,1576.5 1143.0,1571.7 1144.0,1588.3 1145.0,1590.2 1146.0,1584.6 1147.0,1582.0 1148.0,1581.8 1149.0,1578.6 1150.0,1574.4 1150.9,1577.5 1151.7,1578.1 1152.6,1581.0 1155.2,1594.7 1156.0,1598.4 1156.9,1600.3 1157.8,1607.4 1158.6,1610.8 1159.5,1615.9 1160.3,1619.0 1163.8,1642.9 1164.7,1644.9 1165.5,1651.3 1166.4,1655.5 1167.3,1659.5 1172.4,1615.0 1173.4,1614.9 1174.4,1608.2 1175.5,1609.4 1176.5,1607.1 1177.5,1605.2 1178.5,1598.7 1181.5,1578.9 1182.6,1578.1 1183.6,1571.9 1184.6,1570.4 1185.6,1565.9 1186.6,1563.9 1187.6,1562.0 1190.6,1542.0 1191.6,1541.2 1192.6,1540.9 1193.7,1531.0 1196.7,1514.7 1201.8,1568.4 1206.8,1535.0 1210.5,1562.0 1211.4,1559.4 1212.2,1555.6 1213.1,1557.4 1214.0,1554.0 1217.0,1513.7 1220.0,1495.4 1223.0,1532.0 1226.0,1572.4 1230.3,1627.0 1231.1,1624.5 1232.0,1618.5 1232.8,1615.9 1233.6,1614.6 1234.5,1613.9 1235.3,1608.9 1236.1,1604.4 1236.9,1603.8 1237.8,1607.3 1238.6,1601.1 1239.4,1603.8 1242.4,1622.1 1243.4,1624.7 1244.4,1627.7 1245.4,1629.0 1246.4,1626.9 1247.4,1622.7 1248.5,1623.7 1249.5,1623.9 1250.5,1623.7 1251.5,1625.0 1252.3,1622.9 1253.1,1616.6 1254.0,1619.0 1254.8,1608.1 1255.6,1609.9 1259.6,1632.0 1260.4,1630.4 1261.3,1629.7 1262.2,1631.0 1263.0,1625.7 1263.8,1627.6 1264.7,1625.0 1265.7,1586.6 1266.5,1583.7 1267.4,1587.0 1268.2,1589.3 1269.1,1581.2 1270.0,1583.0 1270.8,1580.5 1273.8,1623.0 1277.8,1673.7 1282.0,1702.0 1282.8,1703.1 1283.7,1709.6 1284.5,1712.9 1285.3,1713.5 1286.2,1714.3 1287.0,1719.2 1288.0,1718.1 1289.0,1717.6 1290.0,1713.6 1291.0,1713.1 1292.0,1710.1 1293.0,1706.0 1294.0,1705.1 1295.0,1709.8 1296.0,1716.3 1297.0,1716.2 1298.0,1709.9 1299.0,1710.3 1300.0,1707.7 1301.0,1700.0 1301.8,1704.3 1302.7,1707.9 1303.5,1707.9 1304.4,1709.1 1305.2,1714.2 1306.2,1709.5 1307.2,1704.7 1308.2,1700.5 1309.2,1696.0 1310.0,1695.4 1310.8,1691.6 1311.7,1690.3 1312.5,1688.7 1313.3,1685.8 1317.3,1663.5 1320.4,1613.0 1322.4,1572.4 1326.5,1596.7 1330.5,1521.8 1334.6,1479.2 1339.6,1515.7 1343.7,1481.3 1347.7,1532.0 1351.8,1582.5 1352.8,1586.3 1353.8,1596.0 1354.8,1593.9 1355.8,1598.2 1356.8,1600.1 1357.8,1602.8 1360.9,1643.3 1365.0,1665.6 1365.8,1661.7 1366.7,1657.3 1367.5,1658.7 1368.3,1652.4 1369.2,1646.0 1370.0,1645.3 1370.8,1641.8 1371.7,1640.9 1372.5,1638.0 1373.3,1639.9 1374.2,1632.0 1375.0,1633.0 1377.0,1608.9 1377.8,1609.0 1378.7,1606.6 1379.5,1601.3 1380.3,1603.6 1381.2,1601.9 1382.0,1600.8 1382.9,1600.2 1383.7,1595.1 1384.6,1594.3 1385.5,1592.7 1386.3,1583.8 1387.2,1586.6 1390.3,1552.0 1392.3,1501.5 1394.3,1440.8 1396.3,1400.0 1397.1,1391.0 1398.0,1395.6 1398.8,1388.0 1403.4,1420.5 1407.5,1469.0 1412.5,1440.8 1414.6,1418.5 1415.6,1426.3 1416.6,1424.5 1417.6,1424.8 1418.6,1430.6 1420.0,1392.0 1421.5,1344.0 1423.3,1313.8 1425.5,1298.6 1428.0,1313.8 1431.0,1354.3 1434.2,1384.7 1437.2,1344.0 1440.3,1326.0 1441.3,1330.0 1442.3,1314.4 1443.3,1323.0 1444.1,1323.0 1444.9,1333.4 1445.7,1334.0 1446.5,1385.0 1447.5,1430.6 1450.0,1481.3 1452.0,1534.0 1453.0,1535.1 1454.0,1526.7 1455.0,1521.6 1456.0,1527.8 1460.0,1590.6 1460.8,1593.7 1461.7,1587.9 1462.5,1582.8 1463.4,1584.3 1464.2,1582.5 1466.2,1633.0 1469.2,1687.8 1470.0,1689.1 1470.9,1680.9 1471.8,1688.2 1472.6,1686.7 1473.5,1679.9 1474.3,1683.8 1475.1,1688.3 1475.9,1685.7 1476.8,1694.7 1477.6,1696.0 1478.4,1698.0 1479.4,1703.5 1480.4,1698.8 1481.4,1701.0 1482.4,1702.0 1483.4,1720.3 1484.4,1724.2 1485.4,1723.5 1486.5,1726.7 1487.5,1727.4 1488.5,1729.9 1489.5,1732.4 1490.5,1730.3 1491.5,1726.6 1492.5,1727.1 1493.5,1724.3 1494.3,1727.2 1495.1,1728.5 1496.0,1733.1 1496.8,1731.9 1497.6,1734.4 1498.4,1736.7 1499.3,1734.1 1500.1,1736.3 1501.0,1735.5 1501.8,1731.3 1502.7,1733.3 1503.5,1731.5 1504.3,1730.6 1505.2,1730.3 1506.0,1730.5 1506.9,1731.4 1507.7,1732.4 1508.7,1732.0 1509.7,1730.4 1510.8,1734.5 1511.8,1735.6 1512.8,1737.7 1513.8,1740.5 1514.7,1740.5 1515.5,1740.4 1516.3,1742.4 1517.2,1744.3 1518.1,1743.6 1518.9,1744.6 1519.8,1742.9 1520.6,1744.4 1521.5,1742.9 1522.3,1741.8 1523.2,1741.2 1524.0,1738.5 1525.0,1735.2 1526.0,1732.7 1527.0,1731.9 1528.0,1727.3 1529.0,1727.0 1530.0,1728.2 1531.0,1729.6 1532.0,1729.6 1533.0,1731.9 1534.0,1732.6 1535.0,1736.3 1536.0,1736.5 1537.0,1735.2 1538.1,1735.6 1539.1,1733.5 1540.1,1734.8 1541.2,1733.8 1542.2,1732.4 1543.2,1735.5 1544.2,1734.7 1545.2,1736.6 1546.2,1740.5 1549.2,1714.2 1553.3,1692.0 1554.3,1692.7 1555.3,1697.0 1556.3,1701.0 1557.3,1700.0 1558.2,1694.5 1559.0,1694.6 1559.8,1689.1 1560.7,1686.3 1561.6,1684.2 1562.4,1681.8 1563.2,1685.3 1564.0,1686.3 1564.9,1690.4 1565.7,1687.9 1566.5,1692.0 1569.5,1708.0 1570.3,1707.1 1571.2,1704.5 1572.0,1700.1 1572.9,1698.3 1573.8,1693.5 1574.6,1692.0 1575.4,1688.3 1576.3,1688.4 1577.1,1686.5 1577.9,1692.8 1578.8,1684.1 1579.6,1683.8 1580.4,1690.7 1581.3,1691.0 1582.2,1694.5 1583.0,1698.8 1583.8,1699.1 1584.7,1704.0 1588.7,1728.4 1589.5,1731.2 1590.4,1731.7 1591.2,1730.1 1592.1,1734.7 1593.0,1736.0 1593.8,1736.5 1594.8,1737.2 1595.8,1738.9 1596.8,1735.9 1597.8,1736.5 1598.7,1737.7 1599.5,1738.4 1600.3,1736.4 1601.1,1739.8 1601.9,1738.5 1602.7,1734.3 1603.5,1732.5 1604.4,1733.3 1605.2,1728.7 1606.0,1728.4 1607.0,1726.7 1608.0,1722.6 1609.0,1723.9 1610.0,1722.3 1610.9,1718.5 1611.7,1719.3 1612.6,1716.9 1613.5,1711.8 1614.3,1713.1 1615.2,1710.0 1616.0,1711.6 1616.9,1714.2 1617.8,1716.0 1618.6,1718.4 1619.5,1717.9 1620.3,1722.3 1621.1,1718.9 1622.0,1724.4 1622.8,1723.8 1623.6,1725.6 1624.5,1728.1 1625.3,1728.4 1626.2,1721.0 1627.0,1718.9 1627.8,1715.1 1628.7,1710.2 1629.6,1708.7 1630.4,1704.0 1631.3,1703.9 1632.2,1702.7 1633.1,1702.5 1634.0,1704.5 1634.8,1706.0 1635.7,1703.0 1636.6,1705.3 1637.5,1704.0 1638.5,1707.4 1639.5,1705.5 1640.5,1709.6 1641.5,1714.2 1642.3,1714.7 1643.2,1715.9 1644.0,1717.2 1644.9,1716.3 1645.7,1717.9 1646.5,1718.5 1647.4,1716.1 1648.2,1717.0 1649.1,1717.4 1649.9,1720.0 1650.8,1718.7 1651.6,1720.3 1652.4,1718.2 1653.3,1709.2 1654.2,1709.4 1655.0,1703.8 1655.8,1696.1 1656.7,1696.0 1657.6,1699.8 1658.5,1700.2 1659.4,1701.4 1660.2,1703.1 1661.1,1703.2 1662.0,1706.7 1662.9,1712.6 1663.8,1712.0 1664.8,1709.4 1665.8,1703.4 1666.8,1708.9 1667.9,1705.0 1668.9,1702.0 1669.9,1702.0 1670.9,1702.6 1671.9,1702.9 1673.0,1704.6 1674.0,1702.6 1675.0,1702.5 1676.0,1704.0 1677.0,1709.1 1678.0,1707.4 1679.0,1716.8 1680.0,1716.2 1680.9,1717.3 1681.8,1718.4 1682.6,1723.8 1683.5,1724.5 1684.4,1727.4 1685.2,1726.7 1686.1,1731.6 1687.0,1732.4 1687.9,1728.1 1688.8,1728.1 1689.7,1730.0 1690.6,1726.8 1691.5,1725.2 1692.4,1722.3 1693.3,1724.3 1694.2,1722.3 1695.2,1728.4 1696.2,1731.4 1697.2,1733.3 1698.2,1740.5 1699.1,1739.8 1700.1,1740.6 1701.0,1740.9 1701.9,1739.6 1702.9,1740.6 1703.8,1735.8 1704.7,1733.8 1705.7,1732.8 1706.6,1732.1 1707.5,1733.5 1708.5,1729.5 1709.4,1730.4 1710.2,1733.2 1711.1,1727.7 1711.9,1734.0 1712.8,1733.5 1713.6,1733.2 1714.5,1735.6 1715.3,1736.7 1716.1,1736.4 1717.0,1734.6 1717.8,1736.3 1718.7,1736.8 1719.5,1736.5 1720.5,1735.5 1721.5,1731.4 1722.5,1731.0 1723.6,1727.8 1724.6,1724.7 1725.6,1726.3 1726.4,1731.6 1727.2,1728.2 1728.0,1729.2 1728.8,1728.3 1729.7,1731.8 1730.7,1733.9 1731.7,1732.3 1732.7,1735.9 1733.7,1734.4 1734.7,1737.1 1735.7,1737.4 1736.7,1738.8 1737.7,1742.4 1738.7,1742.5 1739.7,1746.6 1740.6,1746.0 1741.5,1745.6 1742.4,1744.6 1743.2,1746.0 1744.1,1745.1 1745.0,1744.1 1745.9,1745.3 1746.8,1742.5 1747.6,1734.1 1748.4,1734.2 1749.3,1730.1 1750.1,1727.2 1750.9,1724.3 1751.9,1724.8 1752.9,1724.6 1754.0,1723.7 1755.0,1723.3 1756.0,1721.9 1757.0,1722.3 1757.9,1723.4 1758.8,1723.4 1759.7,1719.9 1760.6,1722.8 1761.5,1723.5 1762.4,1722.6 1763.3,1724.3 1764.2,1727.9 1765.1,1729.1 1766.0,1730.4 1766.9,1731.6 1767.8,1731.1 1768.7,1733.2 1769.6,1734.6 1770.5,1733.7 1771.4,1736.1 1772.3,1737.0 1773.2,1736.5 1774.2,1742.0 1775.2,1744.3 1776.2,1744.6 1777.2,1748.6 1778.1,1748.0 1779.0,1747.5 1779.9,1748.9 1780.8,1750.8 1781.8,1748.5 1782.7,1749.7 1783.6,1746.8 1784.5,1748.3 1785.4,1748.8 1786.3,1750.6 1787.2,1751.2 1788.1,1750.7 1788.9,1751.1 1789.8,1752.5 1790.7,1750.9 1791.6,1749.2 1792.5,1748.4 1793.3,1750.9 1794.2,1748.2 1795.1,1747.0 1796.0,1746.0 1796.9,1744.4 1797.7,1744.9 1798.6,1743.7 1799.5,1746.6 1803.5,1720.3 1806.6,1702.0 1807.6,1706.7 1808.6,1711.2 1809.6,1717.5 1810.6,1720.3 1811.6,1720.3 1812.6,1719.6 1813.7,1721.0 1814.7,1720.1 1815.7,1725.2 1816.7,1722.3 1817.5,1720.9 1818.3,1725.8 1819.2,1727.2 1820.0,1729.8 1820.8,1730.4 1821.8,1730.4 1822.8,1732.4 1823.8,1733.5 1824.8,1732.9 1825.7,1733.0 1826.5,1732.8 1827.3,1733.5 1828.1,1732.6 1828.9,1734.4 1829.7,1736.1 1830.5,1738.0 1831.4,1740.8 1832.2,1744.4 1833.0,1744.6 1834.0,1746.6 1835.0,1744.7 1836.0,1745.6 1837.0,1747.0 1838.0,1747.3 1839.0,1747.6 1839.9,1748.8 1840.8,1748.2 1841.6,1748.7 1842.5,1748.7 1843.4,1748.1 1844.2,1747.6 1845.1,1749.5 1846.0,1748.4 1846.9,1750.5 1847.8,1750.3 1848.6,1750.6 1849.5,1750.7 1850.4,1751.0 1851.2,1750.2 1852.1,1748.7 1853.0,1750.6 1854.0,1751.4 1854.9,1751.0 1855.9,1750.2 1856.8,1750.9 1857.8,1749.9 1858.7,1752.5 1859.7,1749.2 1860.6,1751.2 1861.6,1752.5 1862.5,1751.3 1863.5,1752.5 1864.4,1750.1 1865.4,1749.8 1866.3,1751.0 1867.3,1751.0 1868.2,1752.0 1869.2,1752.2 1870.2,1751.7 1871.1,1751.1 1872.1,1751.9 1873.0,1752.5 1874.0,1750.8 1874.9,1750.9 1875.9,1751.3 1876.8,1752.1 1877.8,1751.1 1878.7,1751.4 1879.7,1752.0 1880.6,1752.5 1881.6,1751.9 1882.5,1751.2 1883.5,1752.7 1884.5,1752.4 1885.5,1752.1 1886.4,1752.5 1887.4,1752.0 1888.4,1750.8 1889.4,1752.5 1890.3,1751.1 1891.3,1752.0 1892.3,1751.6 1893.3,1751.6 1894.3,1752.3 1895.2,1752.0 1896.2,1752.5 1897.2,1752.5 1898.2,1751.3 1899.1,1752.0 1900.1,1752.5 1901.1,1752.5 1902.1,1752.5 1903.1,1752.0 1904.0,1751.2 1905.0,1752.5 1906.0,1751.9 1907.0,1752.0 1907.9,1752.4 1908.9,1751.7 1909.9,1752.5 1910.9,1752.0 1911.9,1752.5 1912.8,1752.5 1913.8,1751.8 1914.8,1752.0 1915.8,1752.5 1916.8,1752.5 1917.7,1751.0 1918.7,1752.0 1919.7,1752.5 1920.7,1750.5 1921.6,1752.5 1922.6,1752.0 1923.6,1752.5 1924.6,1752.5 1925.6,1752.3 1926.5,1752.0 1927.5,1751.5 1928.5,1751.1 1929.5,1750.6 1930.4,1752.0 1931.4,1752.5 1932.4,1751.7 1933.4,1751.2 1934.4,1752.0 1935.3,1752.5 1936.3,1751.2 1937.3,1751.5 1938.3,1752.0 1939.2,1751.5 1940.2,1752.5 1941.2,1752.5 1942.2,1752.0 1943.2,1751.8 1944.1,1750.3 1945.1,1752.3 1946.1,1752.0 1947.1,1752.5 1948.0,1752.5 1949.0,1752.5 1950.0,1753.5 1951.0,1752.5 1951.9,1752.5 1952.9,1752.5 1953.8,1752.0 1954.8,1752.2 1955.8,1751.6 1956.7,1751.5 1957.7,1752.0 1958.7,1752.5 1959.6,1750.8 1960.6,1751.9 1961.5,1752.0 1962.5,1751.7 1963.5,1751.4 1964.4,1752.3 1965.4,1752.0 1966.3,1752.0 1967.3,1752.0 1968.3,1752.4 1969.2,1752.0 1970.2,1751.3 1971.2,1752.0 1972.1,1752.1 1973.1,1752.0 1974.0,1752.4 1975.0,1751.5 1976.0,1752.3 1976.9,1752.0 1977.9,1752.1 1978.8,1752.5 1979.8,1752.5 1980.8,1752.0 1981.7,1752.2 1982.7,1752.5 1983.7,1752.0 1984.6,1752.0 1985.6,1751.8 1986.5,1751.8 1987.5,1751.6 1988.5,1752.0 1989.4,1752.0 1990.4,1751.2 1991.3,1752.0 1992.3,1752.0 1993.3,1752.2 1994.2,1752.4 1995.2,1751.8 1996.2,1752.0 1997.1,1752.5 1998.1,1752.5 1999.0,1752.5 2000.0,1753.7 2000.9,1752.4 2001.9,1752.5 2002.8,1752.1 2003.8,1752.0 2004.7,1752.5 2005.6,1752.2 2006.6,1751.5 2007.5,1752.0 2008.4,1752.2 2009.4,1752.2 2010.3,1751.9 2011.2,1752.0 2012.2,1752.0 2013.1,1751.9 2014.1,1751.8 2015.0,1752.0 2015.9,1751.2 2016.9,1752.0 2017.8,1752.5 2018.8,1752.0 2019.7,1752.5 2020.6,1751.9 2021.6,1751.7 2022.5,1752.0 2023.4,1751.9 2024.4,1752.4 2025.3,1752.2 2026.2,1752.0 2027.2,1751.7 2028.1,1752.2 2029.1,1751.9 2030.0,1752.0 2030.9,1752.2 2031.9,1751.8 2032.8,1751.4 2033.8,1752.0 2034.7,1752.0 2035.6,1752.3 2036.6,1751.5 2037.5,1752.0 2038.4,1752.0 2039.4,1752.4 2040.3,1751.8 2041.2,1752.0 2042.2,1751.7 2043.1,1752.5 2044.1,1752.4 2045.0,1752.0 2045.9,1752.5 2046.9,1751.6 2047.8,1752.5 2048.8,1752.0 2049.7,1751.3 2050.6,1751.8 2051.6,1752.3 2052.5,1752.0 2053.4,1752.5 2054.4,1751.6 2055.3,1751.7 2056.2,1752.0 2057.2,1752.5 2058.1,1751.9 2059.1,1752.5 2060.0,1753.5 2061.0,1752.5 2062.0,1752.5 2062.9,1752.5 2063.9,1752.0 2064.9,1752.3 2065.9,1752.1 2066.9,1752.2 2067.9,1752.0 2068.9,1752.5 2069.8,1751.8 2070.8,1752.1 2071.8,1752.0 2072.8,1751.8 2073.8,1752.5 2074.8,1751.8 2075.7,1752.0 2076.7,1752.2 2077.7,1752.1 2078.7,1752.0 2079.7,1752.0 2080.6,1752.5 2081.6,1752.0 2082.6,1752.5 2083.6,1752.0 2084.6,1752.4 2085.6,1752.5 2086.6,1751.9 2087.5,1752.0 2088.5,1752.4 2089.5,1752.3 2090.5,1751.7 2091.5,1752.0 2092.4,1752.1 2093.4,1751.9 2094.4,1752.0 2095.4,1752.0 2096.4,1752.5 2097.4,1751.7 2098.4,1751.3 2099.3,1752.0 2100.3,1751.2 2101.3,1751.8 2102.3,1751.7 2103.3,1752.0 2104.2,1752.0 2105.2,1752.2 2106.2,1752.5 2107.2,1752.0 2108.2,1752.1 2109.2,1752.2 2110.1,1751.7 2111.1,1752.0 2112.1,1752.3 2113.1,1752.5 2114.1,1752.5 2115.1,1752.0 2116.1,1751.5 2117.0,1752.5 2118.0,1752.5 2119.0,1753.5" fill="none" stroke="#f00" stroke-width="6.8" stroke-linejoin="round" stroke-linecap="round"/>
<rect x="438.5" y="62.5" width="1686" height="1688" fill="none" stroke="#000" stroke-width="7" shape-rendering="crispEdges"/>
<line x1="1666" y1="140" x2="1872" y2="140" stroke="#000" stroke-width="10" shape-rendering="crispEdges"/>
<line x1="1666" y1="222.5" x2="1872" y2="222.5" stroke="#f00" stroke-width="10" shape-rendering="crispEdges"/>
<text transform="translate(1898.6,161.5) scale(1.166,1)" font-size="78.7" class="gr">λ</text>
<text transform="translate(1941.2,172.4) scale(1,1.15)" font-size="84" class="lb">~</text>
<text transform="translate(1990.0,160.5) scale(1.038,1)" font-size="69.5" class="lb">1.0</text>
<text transform="translate(1898.6,258.5) scale(1.166,1)" font-size="78.7" class="gr" style="fill:#f00">λ</text>
<text transform="translate(1941.2,269.4) scale(1,1.15)" font-size="84" class="lb" style="fill:#f00">~</text>
<text transform="translate(1990.0,257.5) scale(1.038,1)" font-size="69.5" class="lb" style="fill:#f00">1.6</text>
<text transform="translate(350.4,1781.0) scale(1,1.04)" font-size="79" class="ax" text-anchor="end">0</text>
<text transform="translate(350.4,1357.5) scale(1,1.04)" font-size="79" class="ax" text-anchor="end">4000</text>
<text transform="translate(350.4,934.0) scale(1,1.04)" font-size="79" class="ax" text-anchor="end">8000</text>
<text transform="translate(350.4,510.5) scale(1,1.04)" font-size="79" class="ax" text-anchor="end">12000</text>
<text transform="translate(350.4,87.0) scale(1,1.04)" font-size="79" class="ax" text-anchor="end">16000</text>
<text transform="translate(434.7,1908.6) scale(1,1.04)" font-size="79" class="ax" text-anchor="middle">250</text>
<text transform="translate(819.2,1908.6) scale(1,1.04)" font-size="79" class="ax" text-anchor="middle">300</text>
<text transform="translate(1203.7,1908.6) scale(1,1.04)" font-size="79" class="ax" text-anchor="middle">350</text>
<text transform="translate(1588.2,1908.6) scale(1,1.04)" font-size="79" class="ax" text-anchor="middle">400</text>
<text transform="translate(1972.7,1908.6) scale(1,1.04)" font-size="79" class="ax" text-anchor="middle">450</text>
<text x="967" y="2005" font-size="86.3" class="ax">wavelength [nm]</text>
<text transform="translate(102.5,1354.5) rotate(-90)" font-size="86.3" class="ax">emission intensity [a.u.]</text>
<text transform="translate(626.6,1602.0) scale(0.903,1)" font-size="67" class="lb">OH</text>
<text transform="translate(815.1,1352.0) scale(0.903,1)" font-size="67" class="lb">OH</text>
<text transform="translate(1094.4,1485.3) scale(0.921,1)" font-size="67" class="lb">NH</text>
<text transform="translate(1187.1,1180.0) scale(0.859,1)" font-size="67" class="lb">CN</text>
<text transform="translate(1331.8,646.0) scale(0.95,1)" font-size="67" class="lb">N2</text>
<text transform="translate(1398.9,396.9) scale(0.859,1)" font-size="67" class="lb">CN</text>
<text transform="translate(1533.9,1485.3) scale(0.92,1)" font-size="67" class="lb">N</text>
<text transform="translate(1579.6,1502.5) scale(0.92,1)" font-size="43.7" class="lb">2</text>
<text transform="translate(1603.9,1485.4) scale(1,1)" font-size="63" class="lb">+</text>
<text transform="translate(1646.1,1543.0) scale(0.859,1)" font-size="67" class="lb">CN</text>
</svg></body></html>
